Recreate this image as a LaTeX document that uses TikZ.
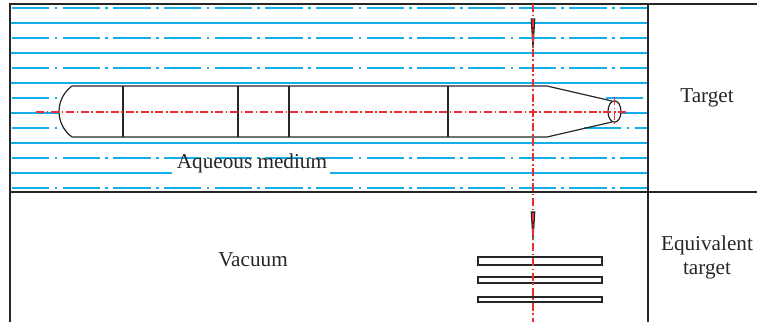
\documentclass[tikz,border=0pt]{standalone}
\usepackage{fontspec}
\usetikzlibrary{shapes.geometric}
\setmainfont{Liberation Serif}
\begin{document}
\definecolor{water}{RGB}{20,175,235}
\definecolor{axisred}{RGB}{235,45,45}
\begin{tikzpicture}[x=0.75pt,y=-0.75pt,
  frame/.style={line width=1.3pt,draw=black!85},
  outline/.style={line width=0.9pt,draw=black!85},
  wsolid/.style={line width=1pt,draw=water},
  wdashdot/.style={line width=1pt,draw=water,dash pattern=on 28pt off 4pt on 2pt off 4pt},
  axis/.style={line width=0.9pt,draw=axisred,dash pattern=on 6pt off 2pt on 1.2pt off 2pt},
  label/.style={font=\fontsize{15.9}{19}\selectfont,inner sep=0pt,text=black!85}]
\useasboundingbox (0,0) rectangle (757,322);

% water layers: solid and dash-dot lines alternate every 15 px
\foreach \y in {8,38,68,158,188}
  \draw[wdashdot] (12,\y) -- (648,\y);
\foreach \y in {23,53,83,143}
  \draw[wsolid] (10,\y) -- (648,\y);
\draw[wsolid] (10,173) -- (172,173);
\draw[wsolid] (330,173) -- (648,173);
% lines cut by the body
\draw[wdashdot] (12,98) -- (61,98);
\draw[wdashdot] (606,98) -- (648,98);
\draw[wsolid] (10,113) -- (59,113);
\draw[wsolid] (621,113) -- (648,113);
\draw[wdashdot] (12,128) -- (64,128);
\draw[wdashdot] (584,128) -- (648,128);

% torpedo body
\coordinate (tl) at (72,86);
\coordinate (bl) at (72,137);
\coordinate (tr) at (547,86);
\coordinate (br) at (547,137);
\draw[outline] (tl) -- (tr) -- (612,101);
\draw[outline] (bl) -- (br) -- (612,122);
\draw[outline] (tl) arc[start angle=234,end angle=126,radius=31.5];
\foreach \x in {123,238,289,448}
  \draw[outline] (\x,86) -- (\x,137);
\node[outline,ellipse,minimum width=9.8pt,minimum height=16pt,inner sep=0pt] (nose) at (614.5,111.5) {};

% axes
\draw[axis] (36,112) -- (627,112);
\draw[axis] (614.5,97) -- (614.5,124);

% frame
\draw[frame] (10,322) -- (10,4) -- (757,4);
\draw[frame] (10,192) -- (757,192);
\draw[frame] (648,4) -- (648,322);

% equivalent target plates
\draw[outline,fill=white] (478,257) rectangle (602,265);
\draw[outline,fill=white] (478,277) rectangle (602,283);
\draw[outline,fill=white] (478,297) rectangle (602,302);

% penetrators
\draw[outline,line width=0.8pt,fill=axisred!60!black] (531.2,19) -- (534.8,19) -- (533,48) -- cycle;
\draw[outline,line width=0.8pt,fill=axisred!60!black] (531.2,212) -- (534.8,212) -- (533,240) -- cycle;

% shot line
\draw[axis] (533,4) -- (533,322);

% labels
\node[label] (aq) at (252,163) {Aqueous medium};
\node[label] (vac) at (253,260) {Vacuum};
\node[label] (tg) at (707,98) {Target};
\node[label,align=center] (eq) at (707,257) {Equivalent\\[-1pt]target};
\end{tikzpicture}
\end{document}
